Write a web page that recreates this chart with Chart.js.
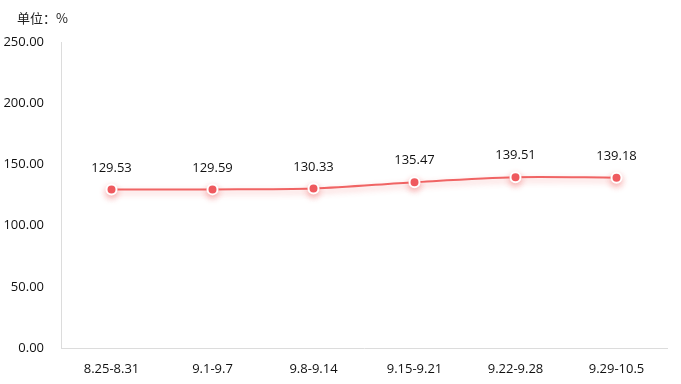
<!DOCTYPE html>
<html>
<head>
<meta charset="utf-8">
<script src="https://cdn.jsdelivr.net/npm/chart.js@4/dist/chart.umd.min.js"></script>
<style>
  html, body { margin: 0; padding: 0; background: #fff; }
  #wrap { position: relative; width: 681px; height: 384px; }
  #unit { position: absolute; left: 17px; top: 8px; font: 13px "Noto Sans CJK SC", sans-serif; color: #222; }
</style>
</head>
<body>
<div id="wrap">
  <canvas id="rateChart" width="681" height="384"></canvas>
  <div id="unit">单位：%</div>
</div>
<script>
const weeks = ["8.25-8.31", "9.1-9.7", "9.8-9.14", "9.15-9.21", "9.22-9.28", "9.29-10.5"];
const rates = [129.53, 129.59, 130.33, 135.47, 139.51, 139.18];
const yMin = 0;
const yMax = 250;
const yStep = 50;

const valueLabels = {
  id: "valueLabels",
  afterDatasetsDraw(chart) {
    const ctx = chart.ctx;
    const meta = chart.getDatasetMeta(0);
    ctx.save();
    ctx.font = '13px "Open Sans", "Noto Sans", sans-serif';
    ctx.fillStyle = "#111";
    ctx.textAlign = "center";
    ctx.textBaseline = "bottom";
    meta.data.forEach((pt, i) => {
      ctx.fillText(rates[i].toFixed(2), pt.x, pt.y - 15);
    });
    ctx.restore();
  },
};

const lineShadow = {
  id: "lineShadow",
  beforeDatasetDraw(chart) {
    const ctx = chart.ctx;
    ctx.save();
    ctx.shadowColor = "rgba(240, 90, 90, 0.45)";
    ctx.shadowBlur = 6;
    ctx.shadowOffsetY = 3;
  },
  afterDatasetDraw(chart) {
    chart.ctx.restore();
  },
};

const ctx = document.getElementById("rateChart").getContext("2d");
new Chart(ctx, {
  type: "line",
  data: {
    labels: weeks,
    datasets: [
      {
        data: rates,
        borderColor: "#f06464",
        borderWidth: 2,
        backgroundColor: "#ef5a5f",
        pointBackgroundColor: "#ef5a5f",
        pointBorderColor: "#ffffff",
        pointBorderWidth: 2,
        pointRadius: 5,
        tension: 0.3,
        fill: false,
      },
    ],
  },
  options: {
    responsive: false,
    animation: false,
    layout: { padding: { left: 0, right: 14, top: 42, bottom: 0 } },
    plugins: { legend: { display: false }, tooltip: { enabled: false } },
    scales: {
      x: {
        offset: true,
        grid: { display: false },
        border: { display: true, color: "#dcdcdc", width: 1 },
        ticks: { color: "#111", font: { size: 13, family: '"Open Sans", "Noto Sans", sans-serif' }, padding: 5, maxRotation: 0 },
        afterFit(scale) { scale.height = 36; },
      },
      y: {
        min: yMin,
        max: yMax,
        grid: { display: false },
        border: { display: true, color: "#dcdcdc", width: 1 },
        ticks: {
          stepSize: yStep,
          color: "#111",
          padding: 9,
          font: { size: 13, family: '"Open Sans", "Noto Sans", sans-serif' },
          callback: (v) => v.toFixed(2),
        },
        afterFit(scale) { scale.width = 61; },
      },
    },
  },
  plugins: [lineShadow, valueLabels],
});
</script>
</body>
</html>
